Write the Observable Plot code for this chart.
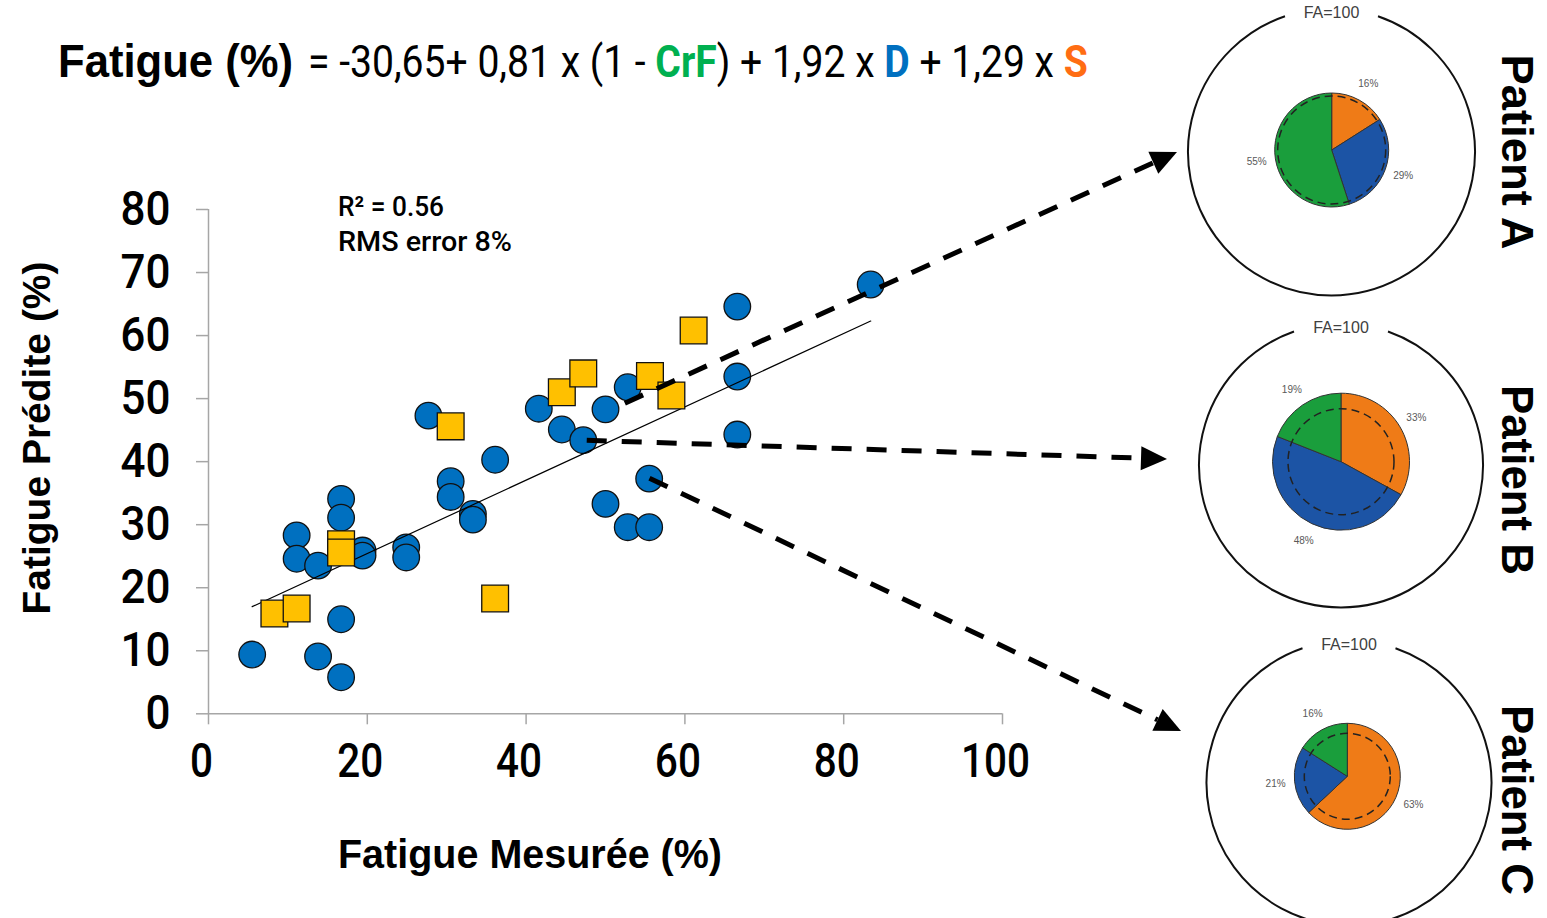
<!DOCTYPE html>
<html><head><meta charset="utf-8">
<script src="https://cdn.jsdelivr.net/npm/d3@7"></script>
<script src="https://cdn.jsdelivr.net/npm/@observablehq/plot@0.6"></script>
<style>
html,body{margin:0;padding:0;background:#fff;}
#chart{width:1547px;height:918px;overflow:hidden;position:relative;}
</style></head><body><div id="chart"></div>
<script>
// ---------------- DATA ----------------
const circleX = [5.5, 13.8, 16.7, 16.7, 11.1, 11.1, 13.8, 16.7, 16.7, 19.4, 19.4, 24.9, 24.9, 27.7, 30.5, 30.5, 33.3, 33.3, 36.1, 41.6, 44.5, 47.2, 50.0, 50.0, 52.8, 52.8, 55.5, 55.5, 66.6, 66.6, 66.6, 83.4];
const circleY = [9.4, 9.1, 5.8, 15.0, 28.3, 24.6, 23.5, 34.1, 31.1, 25.9, 25.1, 26.4, 24.8, 47.3, 36.9, 34.4, 31.7, 30.8, 40.3, 48.4, 45.1, 43.4, 48.3, 33.3, 51.8, 29.6, 29.6, 37.3, 64.6, 53.5, 44.3, 68.1];
const squareX = [8.3, 11.1, 16.7, 16.7, 36.1, 30.5, 44.5, 47.2, 55.6, 58.3, 61.1];
const squareY = [15.9, 16.7, 26.9, 25.6, 18.3, 45.6, 51.0, 54.0, 53.6, 50.5, 60.8];
const fitX = [5.5, 83.4];
const fitY = [17.0, 62.3];
const xTicks = [0, 20, 40, 60, 80, 100];
const yTicks = [0, 10, 20, 30, 40, 50, 60, 70, 80];
const patients = ["Patient A", "Patient B", "Patient C"];
const patientX = [52.5, 47.7, 55.6];   // origin of each dashed arrow (measured, predicted)
const patientY = [49.2, 43.3, 37.3];
const shareS = [16, 33, 63];
const shareD = [29, 48, 21];
const shareCrF = [55, 19, 16];
const components = ["S", "D", "CrF"];
const totalLabel = "FA=100";
const statsLines = ["R² = 0.56", "RMS error 8%"];
const xTitle = "Fatigue Mesurée (%)";
const yTitle = "Fatigue Prédite (%)";
const formulaLead = "Fatigue (%)";
const formulaParts = [["= -30,65+ 0,81 x (1 - ", null], ["CrF", "CrF"], [") + 1,92 x ", null], ["D", "D"], [" + 1,29 x ", null], ["S", "S"]];

// ---------------- STYLE / LAYOUT ----------------
const W = 1547, H = 918;
const frame = {left: 208, right: 1002, top: 209, bottom: 713.3};
const AX = "#a6a6a6";
const BLUE = "#0070c0", YELLOW = "#ffc000";
const pieColor = {S: "#ef7b17", D: "#1c54a5", CrF: "#1a9e3c"};
const textColor = {CrF: "#00b050", D: "#0070c0", S: "#ff6d13"};
const FONT_NUM = "'Liberation Sans Narrow','Roboto','DejaVu Sans Condensed',sans-serif";
const FONT_BOLD = "'Liberation Sans',Arial,sans-serif";
const pieLayout = [
  {cx: 1331.5, cy: 152, R: 143.5, gap: 46.5, px: 1331.7, py: 150, r: 57, rd: 54, tip: [1177, 152], lx: 1502, ly: 152, len: 195},
  {cx: 1341, cy: 465.5, R: 142, gap: 47, px: 1341, py: 461.7, r: 68.5, rd: 53, tip: [1167, 459], lx: 1502, ly: 480, len: 190},
  {cx: 1349, cy: 783, R: 142.5, gap: 46.5, px: 1347.3, py: 776.3, r: 53, rd: 43, tip: [1181, 731], lx: 1502, ly: 800, len: 190}
];

const circles = circleX.map((x, i) => ({x, y: circleY[i]}));
const squares = squareX.map((x, i) => ({x, y: squareY[i]}));
const fit = fitX.map((x, i) => ({x, y: fitY[i]}));

function getScale(scales, k, dom, rng) {
  return (scales && typeof scales[k] === "function") ? scales[k] : d3.scaleLinear(dom, rng);
}

function arrowsMark(index, scales) {
  const sx = getScale(scales, "x", [0, 100], [frame.left, frame.right]);
  const sy = getScale(scales, "y", [0, 80], [frame.bottom, frame.top]);
  const g = d3.create("svg:g");
  patients.forEach((p, i) => {
    const x0 = sx(patientX[i]), y0 = sy(patientY[i]);
    const [tx, ty] = pieLayout[i].tip;
    const a = Math.atan2(ty - y0, tx - x0);
    const hl = 26, hw = 12;
    const bx = tx - hl * Math.cos(a), by = ty - hl * Math.sin(a);
    g.append("line").attr("x1", x0).attr("y1", y0).attr("x2", bx).attr("y2", by)
      .attr("stroke", "#000").attr("stroke-width", 5).attr("stroke-dasharray", "20 15");
    const nx = -Math.sin(a), ny = Math.cos(a);
    g.append("path").attr("d", `M${tx},${ty}L${bx + hw * nx},${by + hw * ny}L${bx - hw * nx},${by - hw * ny}Z`).attr("fill", "#000");
  });
  return g.node();
}

function piesMark() {
  const g = d3.create("svg:g");
  const pie = d3.pie().sort(null).value(d => d.v);
  pieLayout.forEach((L, i) => {
    const slices = [{k: "S", v: shareS[i]}, {k: "D", v: shareD[i]}, {k: "CrF", v: shareCrF[i]}];
    const gap = Math.asin(L.gap / L.R);
    const p = d3.path();
    p.arc(L.cx, L.cy, L.R, -Math.PI / 2 + gap, 3 * Math.PI / 2 - gap);
    g.append("path").attr("d", p.toString()).attr("fill", "none").attr("stroke", "#111").attr("stroke-width", 2);
    g.append("text").attr("x", L.cx).attr("y", L.cy - L.R + 4).attr("dy", "0.35em")
      .attr("text-anchor", "middle").attr("font-family", "'Liberation Sans',Arial,sans-serif")
      .attr("font-size", 16).attr("fill", "#404040").text(totalLabel);
    const arcs = pie(slices);
    const arc = d3.arc().innerRadius(0).outerRadius(L.r);
    const lab = d3.arc().innerRadius(L.r + 19).outerRadius(L.r + 19);
    const gp = g.append("g").attr("transform", `translate(${L.px},${L.py})`);
    gp.selectAll("path").data(arcs).join("path").attr("d", arc)
      .attr("fill", d => pieColor[d.data.k]).attr("stroke", "#333").attr("stroke-width", 1);
    gp.append("circle").attr("r", L.rd).attr("fill", "none").attr("stroke", "#222")
      .attr("stroke-width", 1.5).attr("stroke-dasharray", "8 5");
    gp.selectAll("text").data(arcs).join("text")
      .attr("transform", d => `translate(${lab.centroid(d)})`)
      .attr("text-anchor", "middle").attr("dy", "0.35em")
      .attr("font-family", "'Liberation Sans',Arial,sans-serif").attr("font-size", 10)
      .attr("fill", "#595959").text(d => d.data.v + "%");
    g.append("text").attr("transform", `translate(${L.lx},${L.ly}) rotate(90)`)
      .attr("text-anchor", "middle").attr("font-family", FONT_BOLD).attr("font-weight", "bold")
      .attr("font-size", 45).attr("fill", "#000")
      .attr("textLength", L.len).attr("lengthAdjust", "spacingAndGlyphs").text(patients[i]);
  });
  return g.node();
}

function textsMark() {
  const g = d3.create("svg:g").attr("text-anchor", "start");
  g.append("text").attr("x", 58).attr("y", 77).attr("text-anchor", "start").attr("font-family", FONT_BOLD).attr("font-weight", "bold")
    .attr("font-size", 46).attr("textLength", 235).attr("lengthAdjust", "spacingAndGlyphs").attr("fill", "#000").text(formulaLead);
  const f = g.append("text").attr("class", "formula").attr("text-anchor", "start")
    .attr("transform", "translate(308,77)").attr("font-family", FONT_NUM).attr("font-weight", 400)
    .attr("font-size", 44).attr("fill", "#000").style("white-space", "pre");
  formulaParts.forEach(([t, k]) => {
    const s = f.append("tspan").text(t);
    if (k) s.attr("fill", textColor[k]).attr("font-weight", "bold");
  });
  statsLines.forEach((t, i) => {
    g.append("text").attr("x", 338).attr("y", 216 + i * 35).attr("text-anchor", "start").attr("font-family", FONT_NUM).attr("font-weight", 500)
      .attr("font-size", 28).attr("fill", "#000").attr("textLength", i ? 174 : 106).attr("lengthAdjust", "spacingAndGlyphs").text(t);
  });
  g.append("text").attr("x", 530).attr("y", 868).attr("text-anchor", "middle").attr("font-family", FONT_BOLD)
    .attr("font-weight", "bold").attr("font-size", 41).attr("textLength", 384).attr("lengthAdjust", "spacingAndGlyphs").text(xTitle);
  g.append("text").attr("transform", "translate(50,438) rotate(-90)").attr("text-anchor", "middle").attr("font-family", FONT_BOLD)
    .attr("font-weight", "bold").attr("font-size", 39).attr("textLength", 353).attr("lengthAdjust", "spacingAndGlyphs").text(yTitle);
  return g.node();
}

const chart = Plot.plot({
  width: W, height: H,
  marginLeft: frame.left, marginRight: W - frame.right, marginTop: frame.top, marginBottom: H - frame.bottom,
  style: {background: "#fff", fontFamily: FONT_NUM, overflow: "visible"},
  x: {domain: [0, 100]},
  y: {domain: [0, 80]},
  marks: [
    Plot.ruleY([0], {stroke: AX, strokeWidth: 1.5}),
    Plot.ruleX([0], {stroke: AX, strokeWidth: 1.5}),
    Plot.axisY({ticks: yTicks, tickSize: 12, tickPadding: 26, stroke: AX, strokeWidth: 1.5, fill: "#000", fontSize: 48, fontWeight: 500, label: null, tickFormat: d => String(d)}),
    Plot.axisX({ticks: xTicks, tickSize: 11, stroke: AX, strokeWidth: 1.5, label: null, tickFormat: () => ""}),
    Plot.axisX({ticks: xTicks, tickSize: 0, tickPadding: 29, dx: -7, fill: "#000", fontSize: 48, fontWeight: 500, label: null, tickFormat: d => String(d)}),
    Plot.dot(circles, {x: "x", y: "y", r: 13.3, fill: BLUE, stroke: "#111", strokeWidth: 1.3}),
    Plot.line(fit, {x: "x", y: "y", stroke: "#000", strokeWidth: 1.2}),
    Plot.dot(squares, {x: "x", y: "y", r: 15.1, symbol: "square", fill: YELLOW, stroke: "#111", strokeWidth: 1.3}),
    arrowsMark,
    piesMark,
    textsMark
  ]
});
// condense tick labels to match the narrow typeface of the original
d3.select(chart).selectAll('g[aria-label="x-axis tick label"] text')
  .each(function() {
    const t = this.textContent;
    if (t) d3.select(this).attr("textLength", t.length * 23).attr("lengthAdjust", "spacingAndGlyphs");
  });
d3.select(chart).selectAll('g[aria-label="y-axis tick label"] text')
  .each(function() {
    const t = this.textContent;
    if (t) d3.select(this).attr("textLength", t.length * 25).attr("lengthAdjust", "spacingAndGlyphs");
  });
document.getElementById("chart").append(chart);
// fit the equation to the width it occupies in the original
const fEl = chart.querySelector("text.formula");
if (fEl) {
  const w = fEl.getComputedTextLength();
  if (w > 0) fEl.setAttribute("transform", `translate(308,77) scale(${780 / w},1)`);
}
</script></body></html>
